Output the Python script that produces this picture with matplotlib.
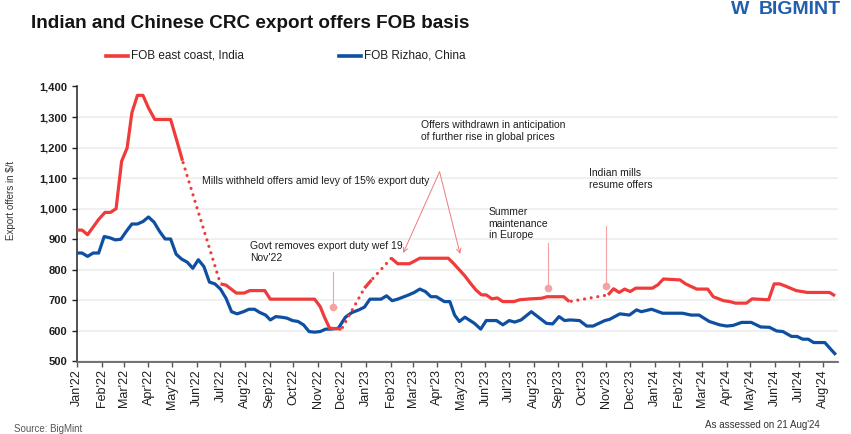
import matplotlib
matplotlib.use("Agg")
import matplotlib.pyplot as plt
import matplotlib.dates as mdates
from matplotlib.lines import Line2D
import numpy as np
import pandas as pd

# ---------------- data ----------------
india_dates = [
    "2022-01-01", "2022-01-07", "2022-01-14", "2022-01-21", "2022-01-28", "2022-02-05",
    "2022-02-12", "2022-02-19", "2022-02-26", "2022-03-05", "2022-03-11", "2022-03-18",
    "2022-03-25", "2022-04-01", "2022-04-09", "2022-04-29", "2022-05-07", "2022-05-14",
    "2022-07-01", "2022-07-08", "2022-07-21", "2022-07-31", "2022-08-07", "2022-08-26",
    "2022-09-02", "2022-10-28", "2022-11-04", "2022-11-10", "2022-11-16", "2022-12-01",
    "2022-12-30", "2023-01-08", "2023-02-02", "2023-02-10", "2023-02-25", "2023-03-10",
    "2023-04-15", "2023-04-22", "2023-04-29", "2023-05-06", "2023-05-13", "2023-05-20",
    "2023-05-27", "2023-06-02", "2023-06-09", "2023-06-16", "2023-06-23", "2023-07-07",
    "2023-07-14", "2023-07-28", "2023-08-11", "2023-08-18", "2023-09-08", "2023-09-15",
    "2023-11-03", "2023-11-10", "2023-11-17", "2023-11-24", "2023-12-01", "2023-12-08",
    "2023-12-29", "2024-01-05", "2024-01-12", "2024-02-02", "2024-02-09", "2024-02-23",
    "2024-03-08", "2024-03-15", "2024-03-28", "2024-04-05", "2024-04-12", "2024-04-26",
    "2024-05-03", "2024-05-24", "2024-05-31", "2024-06-07", "2024-06-14", "2024-06-28",
    "2024-07-05", "2024-07-12", "2024-08-09", "2024-08-16",
]
india_values = [
    930, 930, 915, 940, 965, 988,
    988, 1000, 1155, 1199, 1314, 1371,
    1371, 1330, 1292, 1292, 1221, 1157,
    754, 750, 724, 724, 732, 732,
    704, 704, 680, 642, 609, 606,
    740, 767, 838, 820, 820, 838,
    838, 820, 800, 780, 756, 734,
    718, 718, 705, 708, 696, 696,
    702, 705, 707, 712, 712, 696,
    718, 738, 726, 737, 729, 740,
    740, 751, 770, 767, 754, 737,
    737, 712, 699, 696, 691, 691,
    705, 702, 754, 754, 747, 732,
    729, 726, 726, 715,
]
# periods with no Indian offers (drawn dotted): (start, end)
india_gaps = [
    ("2022-05-14", "2022-07-01"),
    ("2022-12-01", "2022-12-30"),
    ("2023-01-08", "2023-02-02"),
    ("2023-09-15", "2023-11-03"),
]

china_dates = [
    "2022-01-01", "2022-01-07", "2022-01-14", "2022-01-21", "2022-01-28", "2022-02-04",
    "2022-02-11", "2022-02-18", "2022-02-25", "2022-03-04", "2022-03-11", "2022-03-18",
    "2022-03-25", "2022-04-01", "2022-04-08", "2022-04-15", "2022-04-22", "2022-04-29",
    "2022-05-06", "2022-05-13", "2022-05-20", "2022-05-27", "2022-06-03", "2022-06-10",
    "2022-06-17", "2022-06-24", "2022-07-01", "2022-07-08", "2022-07-15", "2022-07-22",
    "2022-07-30", "2022-08-06", "2022-08-13", "2022-08-20", "2022-08-27", "2022-09-02",
    "2022-09-09", "2022-09-16", "2022-09-23", "2022-09-30", "2022-10-07", "2022-10-14",
    "2022-10-21", "2022-10-28", "2022-11-04", "2022-11-11", "2022-11-18", "2022-11-27",
    "2022-12-06", "2022-12-14", "2022-12-23", "2022-12-30", "2023-01-06", "2023-01-20",
    "2023-01-27", "2023-02-03", "2023-02-10", "2023-02-24", "2023-03-03", "2023-03-10",
    "2023-03-17", "2023-03-24", "2023-03-31", "2023-04-10", "2023-04-17", "2023-04-23",
    "2023-04-29", "2023-05-06", "2023-05-18", "2023-05-26", "2023-06-02", "2023-06-15",
    "2023-06-23", "2023-07-01", "2023-07-08", "2023-07-16", "2023-07-29", "2023-08-07",
    "2023-08-17", "2023-08-25", "2023-09-02", "2023-09-09", "2023-09-16", "2023-09-28",
    "2023-10-07", "2023-10-15", "2023-10-30", "2023-11-05", "2023-11-18", "2023-11-30",
    "2023-12-09", "2023-12-15", "2023-12-28", "2024-01-11", "2024-02-05", "2024-02-16",
    "2024-02-26", "2024-03-10", "2024-03-23", "2024-04-01", "2024-04-09", "2024-04-20",
    "2024-05-02", "2024-05-14", "2024-05-25", "2024-06-03", "2024-06-11", "2024-06-22",
    "2024-06-29", "2024-07-06", "2024-07-13", "2024-07-20", "2024-08-03", "2024-08-12",
    "2024-08-17",
]
china_values = [
    855, 855, 844, 855, 855, 909,
    905, 898, 900, 926, 950, 950,
    958, 973, 956, 926, 901, 901,
    851, 835, 825, 805, 833, 811,
    760, 754, 737, 707, 663, 656,
    663, 671, 671, 660, 652, 636,
    647, 645, 642, 634, 631, 620,
    598, 596, 598, 606, 606, 609,
    645, 660, 669, 678, 704, 704,
    715, 699, 704, 718, 726, 737,
    729, 712, 712, 696, 696, 652,
    631, 645, 625, 606, 634, 634,
    620, 634, 629, 636, 663, 645,
    625, 623, 647, 634, 636, 634,
    616, 616, 634, 638, 656, 652,
    669, 663, 671, 658, 658, 652,
    652, 631, 620, 616, 618, 628,
    628, 613, 612, 600, 598, 582,
    582, 573, 573, 562, 562, 536,
    522,
]

# annotations: (text, text date, text value, marker date, marker value, line top value)
callouts = [
    ("Govt removes export duty wef 19\nNov'22", "2022-08-07", 858, "2022-11-20", 678, 793),
    ("Summer\nmaintenance\nin Europe", "2023-06-05", 951, "2023-08-19", 740, 889),
    ("Indian mills\nresume offers", "2023-10-10", 1097, "2023-10-31", 748, 942),
]
mills_text = ("Mills withheld offers amid levy of 15% export duty", "2022-06-08", 1092)
withdrawn_text = ("Offers withdrawn in anticipation\nof further rise in global prices", "2023-03-11", 1255)
withdrawn_apex = ("2023-04-04", 1121)
withdrawn_targets = [("2023-02-17", 855), ("2023-04-30", 852)]

y_ticks = [500, 600, 700, 800, 900, 1000, 1100, 1200, 1300, 1400]

# ---------------- style ----------------
W, H, DPI = 851, 434, 100
RED = "#ef3b39"
BLUE = "#0e4fa2"
PINK = "#f3a3a3"
TXT = "#1e1e1e"
plt.rcParams["font.family"] = ["Liberation Sans", "DejaVu Sans"]

fig = plt.figure(figsize=(W / DPI, H / DPI), dpi=DPI)
fig.patch.set_facecolor("white")


def fx(px):
    return px / W


def fy(py):
    return 1 - py / H


ax_left, ax_right, ax_top, ax_bot = 77.3, 838.0, 86.5, 361.5
ax = fig.add_axes([fx(ax_left), fy(ax_bot), fx(ax_right) - fx(ax_left), fy(ax_top) - fy(ax_bot)])

x0 = pd.Timestamp("2022-01-01")
x1 = x0 + pd.Timedelta(days=961.7)
ax.set_xlim(x0, x1)
ax.set_ylim(500, 1400)

# gridlines
ax.set_yticks(y_ticks)
ax.yaxis.grid(True, color="#eeeeee", lw=1.2, zorder=0)
ax.set_axisbelow(True)

cn_d = pd.to_datetime(china_dates)
cn_v = np.array(china_values, float)
in_d = pd.to_datetime(india_dates)
in_v = np.array(india_values, float)

ax.plot(cn_d, cn_v, color=BLUE, lw=2.3, solid_joinstyle="round", solid_capstyle="butt", zorder=3)

# India: solid where reported, dotted across gaps
gap_pairs = [(pd.Timestamp(a), pd.Timestamp(b)) for a, b in india_gaps]
gap_starts = {a for a, b in gap_pairs}
sx, sy = [], []
for d, v in zip(in_d, in_v):
    sx.append(d)
    sy.append(v)
    if d in gap_starts:
        sx.append(d + pd.Timedelta(days=1))
        sy.append(np.nan)
ax.plot(sx, sy, color=RED, lw=2.3, solid_joinstyle="round", solid_capstyle="butt", zorder=4)
lookup = dict(zip(in_d, in_v))
for a, b in gap_pairs:
    ax.plot([a, b], [lookup[a], lookup[b]], color=RED, lw=2.3,
            linestyle=(1.5, (0.01, 2.1)), dash_capstyle="round", zorder=4)

# axes styling
for s in ["top", "right"]:
    ax.spines[s].set_visible(False)
ax.spines["left"].set_color("#222222")
ax.spines["left"].set_linewidth(1.1)
ax.spines["bottom"].set_color("#666666")
ax.spines["bottom"].set_linewidth(1.3)

ax.yaxis.set_major_formatter(matplotlib.ticker.FuncFormatter(lambda v, p: f"{int(v):,}"))
ax.tick_params(axis="y", direction="out", length=3.5, width=1.0, color="#222222",
               labelsize=8, labelcolor=TXT, pad=3.5)
for lab in ax.get_yticklabels():
    lab.set_fontweight("bold")

ax.xaxis.set_major_locator(mdates.MonthLocator())
ax.xaxis.set_major_formatter(mdates.DateFormatter("%b'%y"))
ax.tick_params(axis="x", direction="out", length=3.5, width=1.0, color="#555555",
               labelsize=9, labelcolor=TXT, pad=2, labelrotation=90)

# annotations
ax.text(pd.Timestamp(mills_text[1]), mills_text[2], mills_text[0], fontsize=7.5, color=TXT,
        ha="left", va="center", zorder=5)
ax.text(pd.Timestamp(withdrawn_text[1]), withdrawn_text[2], withdrawn_text[0], fontsize=7.5,
        color=TXT, ha="left", va="center", linespacing=1.25, zorder=5)
for tx, ty in withdrawn_targets:
    ax.annotate("", xy=(pd.Timestamp(tx), ty),
                xytext=(pd.Timestamp(withdrawn_apex[0]), withdrawn_apex[1]),
                arrowprops=dict(arrowstyle="->", color="#f07a7a", lw=0.7,
                                shrinkA=0, shrinkB=0, mutation_scale=8),
                zorder=5)
for text, td, tv, md, mv, top in callouts:
    ax.text(pd.Timestamp(td), tv, text, fontsize=7.5, color=TXT, ha="left", va="center",
            linespacing=1.2, zorder=5)
    ax.plot([pd.Timestamp(md), pd.Timestamp(md)], [top, mv], color=PINK, lw=0.8, zorder=5)
    ax.plot([pd.Timestamp(md)], [mv], "o", color=PINK, ms=5.5, mec="none", zorder=6)

# title, legend, labels
fig.text(fx(31), fy(27.5), "Indian and Chinese CRC export offers FOB basis", fontsize=13.6,
         fontweight="bold", color="#141414", ha="left", va="baseline")

leg_y = 56
fig.add_artist(Line2D([fx(106), fx(128)], [fy(leg_y), fy(leg_y)], color=RED, lw=2.6))
fig.text(fx(131), fy(leg_y), "FOB east coast, India", fontsize=8.5, color=TXT, ha="left", va="center")
fig.add_artist(Line2D([fx(339), fx(361)], [fy(leg_y), fy(leg_y)], color=BLUE, lw=2.6))
fig.text(fx(364), fy(leg_y), "FOB Rizhao, China", fontsize=8.5, color=TXT, ha="left", va="center")

fig.text(fx(11), fy(200), r"Export offers in \$/t", fontsize=7, color="#333333",
         rotation=90, ha="center", va="center")
fig.text(fx(14), fy(429), "Source: BigMint", fontsize=7, color="#555555", ha="left", va="center")
fig.text(fx(820), fy(425), "As assessed on 21 Aug'24", fontsize=7, color="#333333",
         ha="right", va="center")

# logo
fig.text(fx(759), fy(14), "BIGMINT", fontsize=14, fontweight="bold", color="#1f5fae",
         ha="left", va="baseline")
fig.text(fx(740), fy(14), "W", fontsize=14, fontweight="bold", color="#1f5fae",
         ha="center", va="baseline")

fig.savefig("out.png", dpi=DPI, facecolor="white")
